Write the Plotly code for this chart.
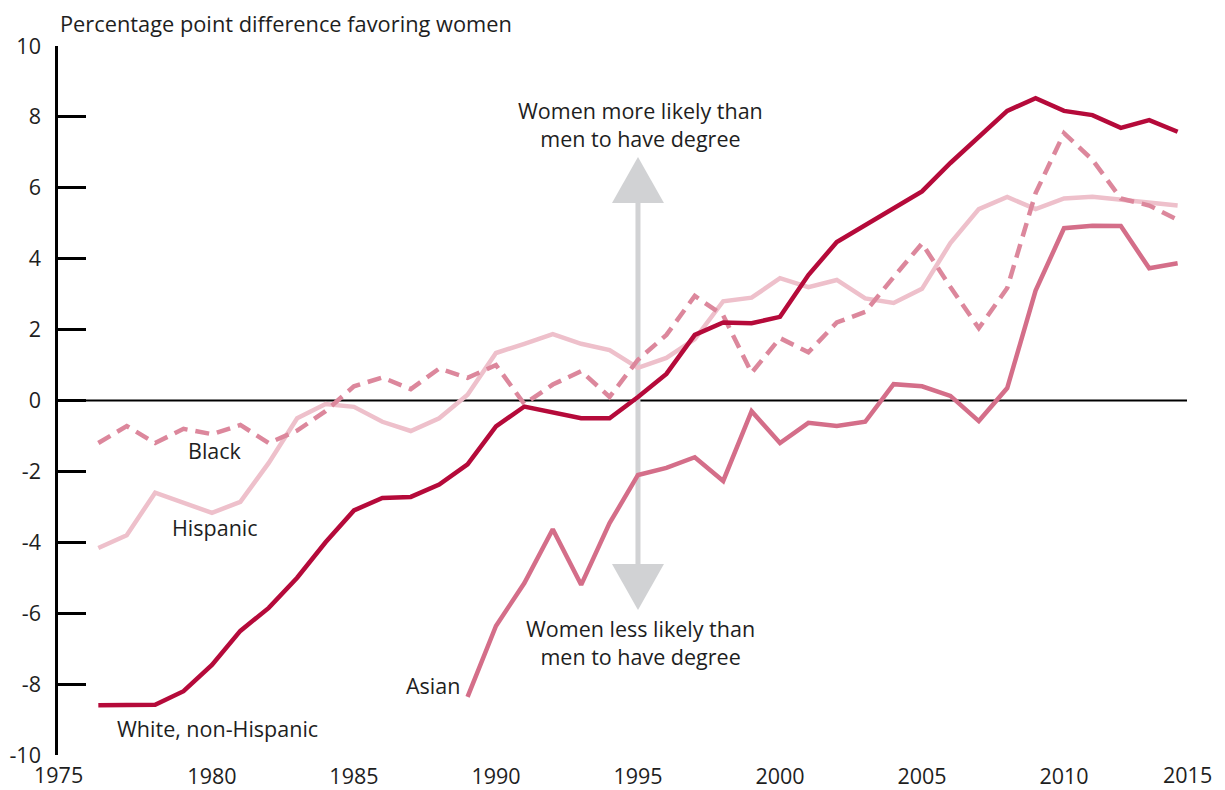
import plotly.graph_objects as go

years_main = list(range(1976, 2015))
white = [-8.6, -8.6, -8.58, -8.2, -7.46, -6.5, -5.85, -5.0, -4.0, -3.1,
         -2.75, -2.72, -2.37, -1.8, -0.73, -0.17, -0.35, -0.5, -0.5, 0.1,
         0.75, 1.85, 2.2, 2.18, 2.36, 3.54, 4.47, 4.95, 5.43, 5.9,
         6.7, 7.45, 8.17, 8.53, 8.17, 8.05, 7.69, 7.91, 7.58]
black = [-1.2, -0.72, -1.2, -0.8, -0.95, -0.69, -1.2, -0.85, -0.3, 0.4,
         0.65, 0.32, 0.9, 0.64, 1.0, -0.1, 0.45, 0.83, 0.1, 1.15,
         1.85, 2.95, 2.4, 0.78, 1.76, 1.36, 2.2, 2.5, 3.48, 4.43,
         3.2, 2.04, 3.17, 5.85, 7.54, 6.79, 5.7, 5.5, 5.1]
hispanic = [-4.16, -3.8, -2.6, -2.9, -3.17, -2.86, -1.76, -0.5, -0.1, -0.18,
            -0.6, -0.86, -0.5, 0.16, 1.34, 1.6, 1.87, 1.6, 1.42, 0.92,
            1.2, 1.73, 2.8, 2.9, 3.45, 3.2, 3.4, 2.88, 2.75, 3.15,
            4.44, 5.4, 5.74, 5.4, 5.7, 5.75, 5.67, 5.6, 5.5]
years_asian = list(range(1989, 2015))
asian = [-8.36, -6.36, -5.15, -3.63, -5.2, -3.46, -2.1, -1.9, -1.6, -2.27,
         -0.3, -1.2, -0.63, -0.72, -0.6, 0.46, 0.4, 0.13, -0.58, 0.35,
         3.1, 4.86, 4.93, 4.92, 3.73, 3.87]

x_ticks = [1980, 1985, 1990, 1995, 2000, 2005, 2010]
y_ticks = [-10, -8, -6, -4, -2, 0, 2, 4, 6, 8, 10]
y_labels = [str(v) for v in y_ticks]  # plain hyphen minus as in the reference

C_WHITE = "#b50a3a"
C_BLACK = "#dc879c"
C_HISP = "#eec0cb"
C_ASIAN = "#d46e89"
C_ARROW = "#d1d2d4"
TXT = "#1e1e1e"
FONT = "Open Sans"
FS = 21.5
LW = 4.5

fig = go.Figure()
fig.add_trace(go.Scatter(x=years_main, y=hispanic, mode="lines",
                         line=dict(color=C_HISP, width=LW), hoverinfo="skip"))
fig.add_trace(go.Scatter(x=years_asian, y=asian, mode="lines",
                         line=dict(color=C_ASIAN, width=LW), hoverinfo="skip"))
fig.add_trace(go.Scatter(x=years_main, y=black, mode="lines",
                         line=dict(color=C_BLACK, width=LW, dash="14px,8px"), hoverinfo="skip"))
fig.add_trace(go.Scatter(x=years_main, y=white, mode="lines",
                         line=dict(color=C_WHITE, width=LW), hoverinfo="skip"))

# arrow (shaft and heads)
ax = 1995
fig.add_shape(type="line", x0=ax, x1=ax, y0=5.6, y1=-4.65, xref="x", yref="y",
              line=dict(color=C_ARROW, width=5), layer="below")
hw = 0.915
fig.add_shape(type="path", xref="x", yref="y",
              path=f"M {ax-hw},5.57 L {ax+hw},5.57 L {ax},6.87 Z",
              fillcolor=C_ARROW, line=dict(width=0), layer="below")
fig.add_shape(type="path", xref="x", yref="y",
              path=f"M {ax-hw},-4.61 L {ax+hw},-4.61 L {ax},-5.91 Z",
              fillcolor=C_ARROW, line=dict(width=0), layer="below")

# zero line
fig.add_shape(type="line", xref="paper", yref="y", x0=0, x1=1, y0=0, y1=0,
              line=dict(color="black", width=2), layer="below")

ann_font = dict(family=FONT, size=FS, color=TXT)
anns = [
    dict(x=1980.1, y=-1.40, text="Black"),
    dict(x=1980.1, y=-3.57, text="Hispanic"),
    dict(x=1980.2, y=-9.24, text="White, non-Hispanic"),
    dict(x=1987.78, y=-8.05, text="Asian"),
    dict(x=1995.1, y=7.79, text="Women more likely than<br>men to have degree"),
    dict(x=1995.1, y=-6.83, text="Women less likely than<br>men to have degree"),
]
for a in anns:
    fig.add_annotation(xref="x", yref="y", showarrow=False, font=ann_font,
                       xanchor="center", yanchor="middle", align="center", **a)

fig.add_annotation(xref="paper", yref="paper", x=0, y=1.032, xanchor="left",
                   yanchor="middle", showarrow=False,
                   font=dict(family=FONT, size=21.8, color=TXT),
                   text="Percentage point difference favoring women")
for xp, t in [(0, "1975"), (1, "2015")]:
    fig.add_annotation(xref="paper", yref="paper", x=xp, y=-0.028, xanchor="center",
                       yanchor="middle", showarrow=False, font=ann_font, text=t)

# page has an 8px body margin, so the figure is 8px smaller and margins shifted
fig.update_layout(
    width=1217, height=782,
    margin=dict(l=50, r=38, t=38, b=35, autoexpand=False),
    paper_bgcolor="white", plot_bgcolor="white",
    showlegend=False,
    font=dict(family=FONT, size=FS, color=TXT),
    xaxis=dict(range=[1974.58, 2014.33], tickvals=x_ticks,
               ticktext=[str(v) for v in x_ticks], showgrid=False, zeroline=False,
               showline=False, ticks="", ticklabelstandoff=6, fixedrange=True),
    yaxis=dict(range=[-10, 10], tickvals=y_ticks, ticktext=y_labels,
               showgrid=False, zeroline=False,
               showline=True, linecolor="black", linewidth=2.5,
               ticks="inside", ticklen=28, tickwidth=2.5, tickcolor="black",
               ticklabelstandoff=10, fixedrange=True),
)

fig.write_html("out.html")
